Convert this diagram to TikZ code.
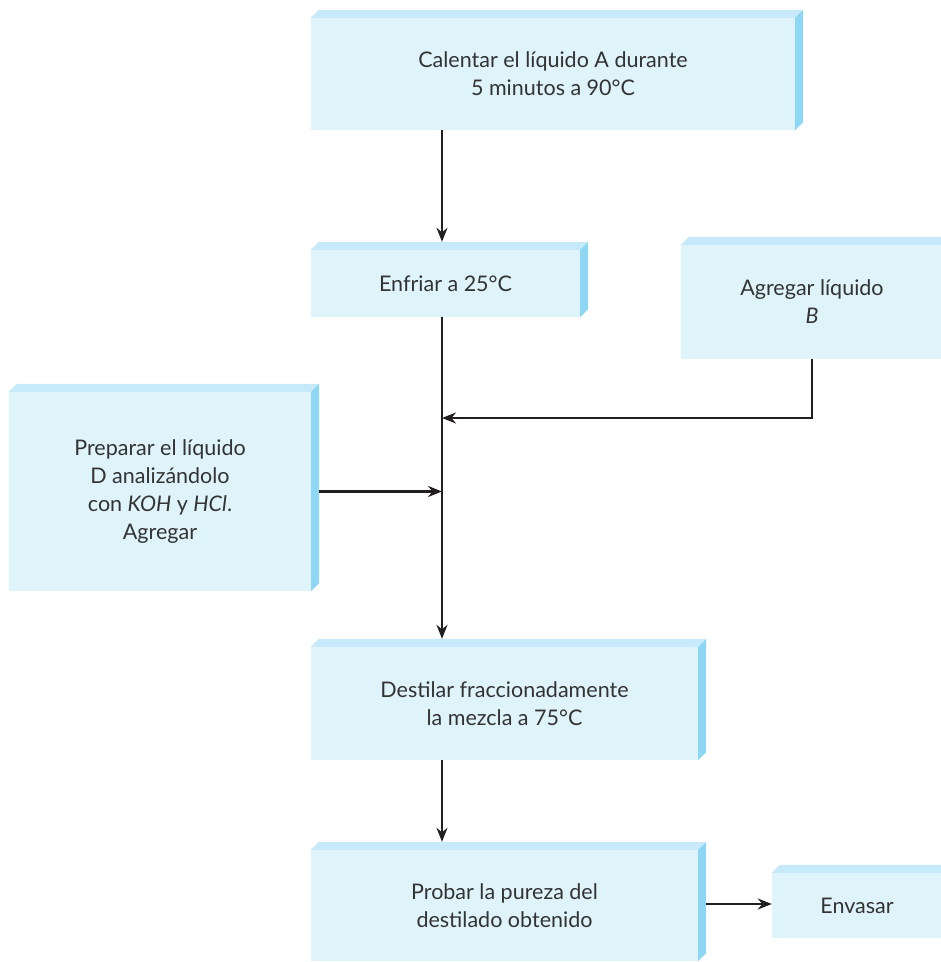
\documentclass[tikz,border=0pt]{standalone}
\usepackage{fontspec}
\setmainfont{Lato}
\usetikzlibrary{arrows.meta}
\definecolor{frente}{HTML}{DFF3FB}
\definecolor{tapa}{HTML}{C6EAF9}
\definecolor{lado}{HTML}{8ED7F4}
\definecolor{linea}{HTML}{231F20}
\definecolor{texto}{HTML}{333333}
\begin{document}
\begin{tikzpicture}[x=1pt,y=1pt,
   caja/.style={fill=frente, align=center, text=texto, inner sep=0pt,
      font=\fontsize{21.5}{28}\selectfont},
   flecha/.style={draw=linea, line width=2.2pt, -{Stealth[length=14pt,width=11pt]}},
   linea/.style={draw=linea, line width=2.2pt}]
   \clip (0,0) rectangle (941,962);

   \node[caja, minimum width=484, minimum height=112] (calentar) at (553,888)
      {Calentar el líquido A durante\\5 minutos a 90°C};
   \node[caja, minimum width=269, minimum height=67] (enfriar) at (445.5,678.5)
      {Enfriar a 25°C};
   \node[caja, minimum width=262, minimum height=114] (agregar) at (812,660)
      {Agregar líquido\\\textit{B}};
   \node[caja, minimum width=302, minimum height=199] (preparar) at (160,470.5)
      {Preparar el líquido\\D analizándolo\\con \textit{KOH} y \textit{HCl}.\\Agregar};
   \node[caja, minimum width=387, minimum height=113] (destilar) at (504.5,258.5)
      {Destilar fraccionadamente\\la mezcla a 75°C};
   \node[caja, minimum width=387, minimum height=111] (probar) at (504.5,56.5)
      {Probar la pureza del\\destilado obtenido};
   \node[caja, minimum width=170, minimum height=65] (envasar) at (857,56.5)
      {Envasar};

   \foreach \n in {calentar,enfriar,agregar,preparar,destilar,probar,envasar}{
      \fill[tapa] (\n.north west) -- ++(8,8) -- ([shift={(8,8)}]\n.north east)
         -- (\n.north east) -- cycle;
      \fill[lado] (\n.north east) -- ++(8,8) -- ([shift={(8,8)}]\n.south east)
         -- (\n.south east) -- cycle;
   }

   \coordinate (eje) at (442,0);
   \coordinate (unionB) at (442,544);
   \coordinate (unionD) at (eje |- preparar.east);

   \draw[flecha] (calentar.south -| eje) -- ([yshift=8pt]enfriar.north -| eje);
   \draw[flecha] (enfriar.south -| eje) -- ([yshift=8pt]destilar.north -| eje);
   \draw[flecha] (agregar.south) |- (unionB);
   \draw[flecha] ([xshift=8pt]preparar.east) -- (unionD);
   \draw[flecha] (destilar.south -| eje) -- ([yshift=8pt]probar.north -| eje);
   \draw[flecha] ([xshift=8pt,yshift=1.5pt]probar.east) -- ([yshift=1.5pt]envasar.west);

 \end{tikzpicture}
\end{document}
